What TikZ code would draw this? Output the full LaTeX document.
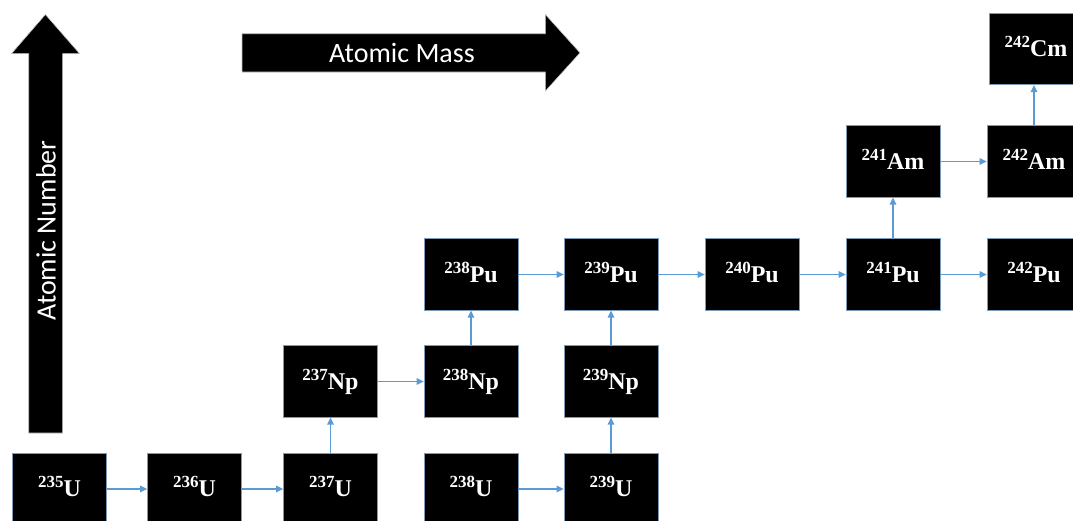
\documentclass[tikz,border=0pt]{standalone}
\usepackage{fontspec}
\setmainfont{Liberation Serif}
\newfontfamily\carl{Carlito}
\usetikzlibrary{arrows.meta}
\definecolor{arr}{RGB}{91,155,213}
\definecolor{bord}{RGB}{125,155,185}
\newcommand{\iso}[2]{{\fontsize{17}{17}\selectfont\raisebox{9pt}{#1}}#2}
\begin{document}
\begin{tikzpicture}[x=1pt,y=-1pt,
  isob/.style={draw=bord, line width=0.7pt, fill=black, minimum width=94pt, minimum height=71.5pt,
    inner sep=0pt, text=white, text height=15pt, text depth=0pt, font=\fontsize{24}{24}\selectfont\bfseries},
  link/.style={draw=arr, line width=1.4pt, -{Triangle[length=7pt,width=6.5pt]}},
  bigarrow/.style={fill=black, draw=gray!45, line width=0.6pt},
  lab/.style={text=white, inner sep=0pt, font=\carl\fontsize{28}{28}\selectfont}]
\useasboundingbox (0,0) rectangle (1073,520);
\clip (0,0) rectangle (1073,520);
% big axis arrows
\path[bigarrow] (28.7,433) -- (28.7,53.6) -- (11.5,53.6) -- (45.4,14.5) -- (79.6,53.6) -- (62.6,53.6) -- (62.6,433) -- cycle;
\path[bigarrow] (242,33.7) -- (545.4,33.7) -- (545.4,14.5) -- (580,52.8) -- (545.4,91) -- (545.4,72) -- (242,72) -- cycle;
\node[lab, rotate=90] (anum) at (46,230.5) {Atomic Number};
\node[lab] (amass) at (402,52.5) {Atomic Mass};
% isotope boxes
\node[isob] (u235)  at (59.5,489)  {\iso{235}{U}};
\node[isob] (u236)  at (194.5,489) {\iso{236}{U}};
\node[isob] (u237)  at (330.5,489) {\iso{237}{U}};
\node[isob] (u238)  at (471,489)   {\iso{238}{U}};
\node[isob] (u239)  at (611,489)   {\iso{239}{U}};
\node[isob] (np237) at (330.5,381.5) {\iso{237}{Np}};
\node[isob] (np238) at (471,381.5) {\iso{238}{Np}};
\node[isob] (np239) at (611,381.5) {\iso{239}{Np}};
\node[isob] (pu238) at (471,274.5) {\iso{238}{Pu}};
\node[isob] (pu239) at (611,274.5) {\iso{239}{Pu}};
\node[isob] (pu240) at (752,274.5) {\iso{240}{Pu}};
\node[isob] (pu241) at (893,274.5) {\iso{241}{Pu}};
\node[isob] (pu242) at (1034,274.5) {\iso{242}{Pu}};
\node[isob] (am241) at (893,161.5) {\iso{241}{Am}};
\node[isob] (am242) at (1034,161.5) {\iso{242}{Am}};
\node[isob] (cm242) at (1036,49) {\iso{242}{Cm}};
% connectors
\draw[link] (u235) -- (u236);
\draw[link] (u236) -- (u237);
\draw[link] (u237) -- (np237);
\draw[link] (np237) -- (np238);
\draw[link] (np238) -- (pu238);
\draw[link] (u238) -- (u239);
\draw[link] (u239) -- (np239);
\draw[link] (np239) -- (pu239);
\draw[link] (pu238) -- (pu239);
\draw[link] (pu239) -- (pu240);
\draw[link] (pu240) -- (pu241);
\draw[link] (pu241) -- (pu242);
\draw[link] (pu241) -- (am241);
\draw[link] (am241) -- (am242);
\draw[link] (am242.north) -- (am242.north |- cm242.south);
\end{tikzpicture}
\end{document}
